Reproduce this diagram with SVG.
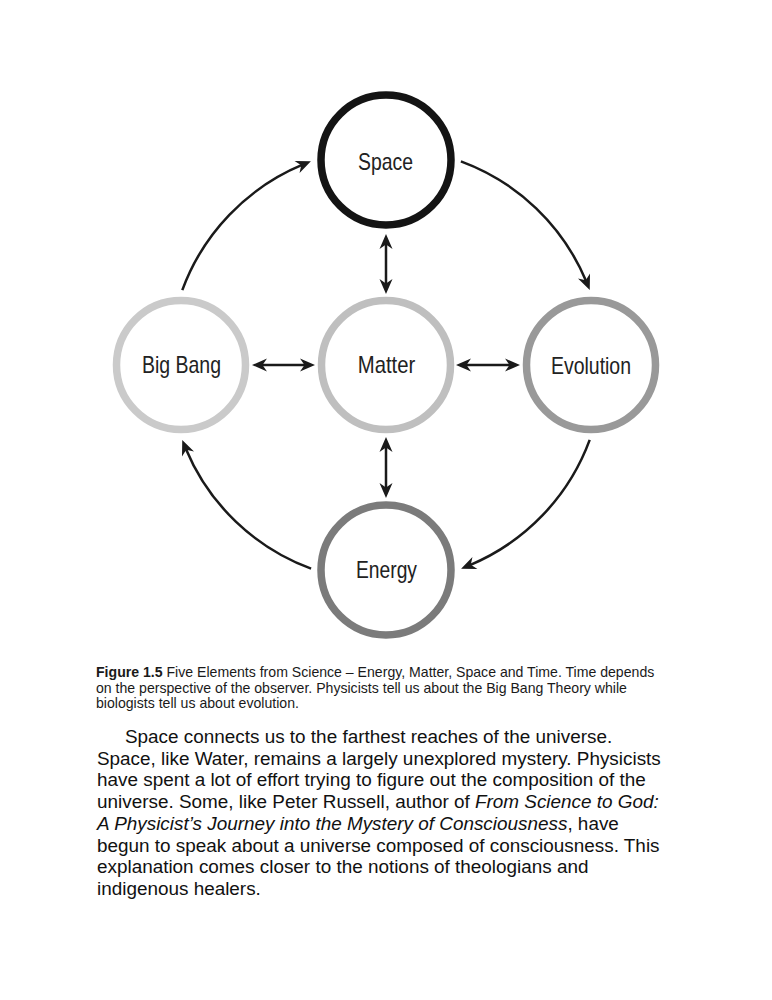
<svg xmlns="http://www.w3.org/2000/svg" width="772" height="1000" viewBox="0 0 772 1000">
<style>
.node{fill:#fff;stroke-width:7.5}
.lbl{font-family:"Liberation Sans",Arial,sans-serif;font-size:24px;fill:#222;text-anchor:middle}
.conn{fill:none;stroke:#1a1a1a;stroke-width:2.5}
.cap{font-family:"Liberation Sans",Arial,sans-serif;font-size:14.1px;fill:#1a1a1a}
.para{font-family:"Liberation Sans",Arial,sans-serif;font-size:18.9px;fill:#111}
.it{font-style:italic}
</style>
<defs>
<marker id="ah" viewBox="-16 -8 17 16" refX="-9" refY="0" markerWidth="17" markerHeight="16" markerUnits="userSpaceOnUse" orient="auto-start-reverse">
<path d="M0,0 L-15,-6.5 L-10.5,0 L-15,6.5 Z" fill="#1a1a1a"/>
</marker>
</defs>
<rect width="772" height="1000" fill="#fff"/>
<g id="connectors">
<path class="conn" d="M386,243 L386,285" marker-start="url(#ah)" marker-end="url(#ah)"/>
<path class="conn" d="M261,365 L306,365" marker-start="url(#ah)" marker-end="url(#ah)"/>
<path class="conn" d="M465,365 L511,365" marker-start="url(#ah)" marker-end="url(#ah)"/>
<path class="conn" d="M386,446 L386,489" marker-start="url(#ah)" marker-end="url(#ah)"/>
<path class="conn" d="M182.3,290.1 A217,217 0 0 1 302.6,164.7" marker-end="url(#ah)"/>
<path class="conn" d="M460.9,161.3 A217,217 0 0 1 586.3,281.6" marker-end="url(#ah)"/>
<path class="conn" d="M589.7,439.9 A217,217 0 0 1 469.4,565.3" marker-end="url(#ah)"/>
<path class="conn" d="M311.1,568.7 A217,217 0 0 1 185.7,448.4" marker-end="url(#ah)"/>
</g>
<g id="space">
<circle class="node" cx="386" cy="160" r="65" stroke="#141414" stroke-width="8.5"/>
<text class="lbl" x="385.5" y="170" textLength="55" lengthAdjust="spacingAndGlyphs">Space</text>
</g>
<g id="bigbang">
<circle class="node" cx="181" cy="365" r="64.5" stroke="#cacaca"/>
<text class="lbl" x="181.5" y="373" textLength="79" lengthAdjust="spacingAndGlyphs">Big Bang</text>
</g>
<g id="matter">
<circle class="node" cx="386" cy="365" r="64.5" stroke="#bfbfbf"/>
<text class="lbl" x="386.5" y="373" textLength="57.5" lengthAdjust="spacingAndGlyphs">Matter</text>
</g>
<g id="evolution">
<circle class="node" cx="591" cy="365" r="64.5" stroke="#999999"/>
<text class="lbl" x="591" y="374" textLength="80" lengthAdjust="spacingAndGlyphs">Evolution</text>
</g>
<g id="energy">
<circle class="node" cx="386" cy="570" r="65" stroke="#7b7b7b" stroke-width="8"/>
<text class="lbl" x="386.5" y="578" textLength="61" lengthAdjust="spacingAndGlyphs">Energy</text>
</g>
<g id="caption">
<text class="cap" x="96" y="677"><tspan font-weight="bold">Figure 1.5</tspan> Five Elements from Science – Energy, Matter, Space and Time. Time depends</text>
<text class="cap" x="96" y="692.5">on the perspective of the observer. Physicists tell us about the Big Bang Theory while</text>
<text class="cap" x="96" y="708">biologists tell us about evolution.</text>
</g>
<g id="paragraph">
<text class="para" x="125" y="743">Space connects us to the farthest reaches of the universe.</text>
<text class="para" x="97" y="764.7">Space, like Water, remains a largely unexplored mystery. Physicists</text>
<text class="para" x="97" y="786.4">have spent a lot of effort trying to figure out the composition of the</text>
<text class="para" x="97" y="808.1">universe. Some, like Peter Russell, author of <tspan class="it">From Science to God:</tspan></text>
<text class="para" x="97" y="829.8"><tspan class="it">A Physicist’s Journey into the Mystery of Consciousness</tspan>, have</text>
<text class="para" x="97" y="851.5">begun to speak about a universe composed of consciousness. This</text>
<text class="para" x="97" y="873.2">explanation comes closer to the notions of theologians and</text>
<text class="para" x="97" y="894.9">indigenous healers.</text>
</g>
</svg>
